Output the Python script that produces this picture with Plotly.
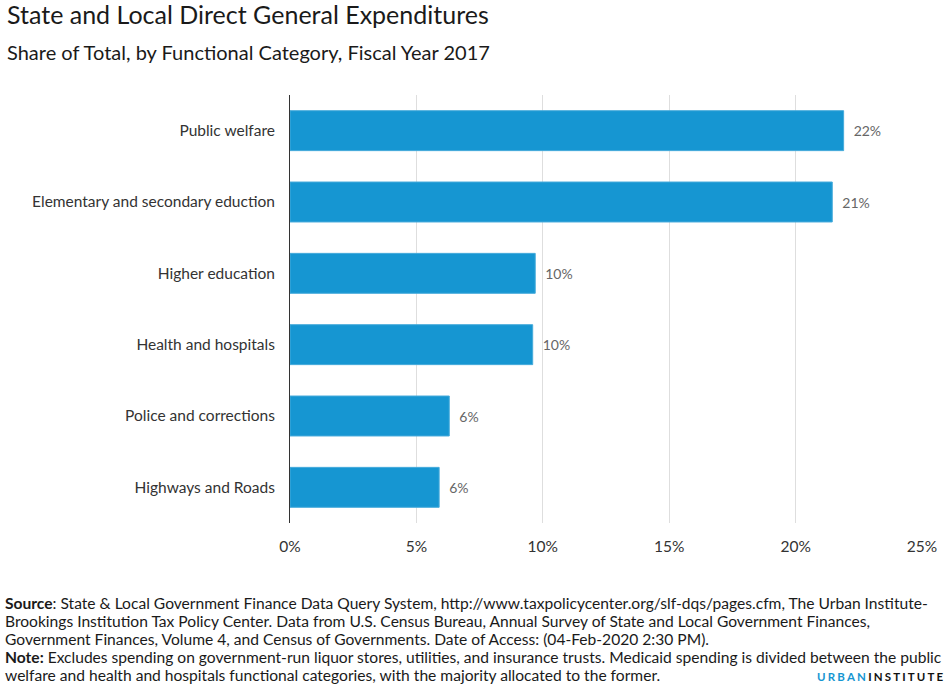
import plotly.graph_objects as go

categories = [
    'Public welfare',
    'Elementary and secondary eduction',
    'Higher education',
    'Health and hospitals',
    'Police and corrections',
    'Highways and Roads',
]
shares = [21.9, 21.45, 9.7, 9.6, 6.3, 5.9]
x_ticks = [0, 5, 10, 15, 20, 25]

title = 'State and Local Direct General Expenditures'
subtitle = 'Share of Total, by Functional Category, Fiscal Year 2017'
note_lines = [
    '<b>Source</b>: State & Local Government Finance Data Query System, http://www.taxpolicycenter.org/slf-dqs/pages.cfm, The Urban Institute-',
    'Brookings Institution Tax Policy Center. Data from U.S. Census Bureau, Annual Survey of State and Local Government Finances,',
    'Government Finances, Volume 4, and Census of Governments. Date of Access: (04-Feb-2020 2:30 PM).',
    '<b>Note:</b> Excludes spending on government-run liquor stores, utilities, and insurance trusts. Medicaid spending is divided between the public',
    'welfare and health and hospitals functional categories, with the majority allocated to the former.',
]

colors = {
    'blue': '#1696d2',
    'text': '#1a1a1a',
    'label': '#666666',
    'grid': '#dedede',
    'axis': '#333333',
}

fig = go.Figure(go.Bar(
    x=shares,
    y=categories,
    orientation='h',
    marker=dict(color=colors['blue'], line=dict(color='#46abdb', width=1)),
    text=['\u2002{:.0f}%'.format(v) for v in shares],
    textposition='outside',
    textfont=dict(family='Lato', size=14, color=colors['label']),
    cliponaxis=False,
    hoverinfo='skip',
))

annotations = [
    dict(text=title, x=5, y=14, font=dict(size=25, color=colors['text'])),
    dict(text=subtitle, x=5, y=52, font=dict(size=20, color=colors['text'])),
]
for i, line in enumerate(note_lines):
    annotations.append(dict(text=line, x=3, y=603 + 18 * i, font=dict(size=15.6, color=colors['text'])))
for a in annotations:
    a.update(xref='paper', yref='paper', xanchor='left', yanchor='middle', showarrow=False)
    # pixel coords -> paper coords (plot area 290..922 x 95..523)
    a['x'] = (a['x'] - 290) / 632
    a['y'] = (523 - a['y']) / 428
    a['font']['family'] = 'Lato'

sp = '\u2009\u200a'
annotations.append(dict(
    text='<span style="color:#1696d2">' + sp.join('URBAN') + '</span>' + sp + sp.join('INSTITUTE'),
    xref='paper', yref='paper', x=(946 - 290) / 632, y=(523 - 676) / 428,
    xanchor='right', yanchor='middle', showarrow=False,
    font=dict(family='Lato', size=11.5, color='#111111', weight=700),
))

fig.update_layout(
    width=951,
    height=684,
    paper_bgcolor='white',
    plot_bgcolor='white',
    margin=dict(l=290, r=29, t=95, b=161),
    showlegend=False,
    bargap=0.44,
    font=dict(family='Lato', color=colors['axis']),
    annotations=annotations,
    xaxis=dict(
        range=[0, 25],
        tickvals=x_ticks,
        ticktext=[f'{t}%' for t in x_ticks],
        showgrid=True,
        gridcolor=colors['grid'],
        gridwidth=1,
        zeroline=False,
        showline=False,
        ticks='',
        ticklabelstandoff=12,
        tickfont=dict(size=15.5, color=colors['axis']),
    ),
    yaxis=dict(
        autorange='reversed',
        showline=True,
        linecolor=colors['axis'],
        linewidth=1,
        showgrid=False,
        ticks='',
        ticklabelstandoff=11,
        tickfont=dict(size=15.5, color=colors['axis']),
    ),
)

# page body has a default 8px margin that would push the fixed-size figure off the window
fig.write_html('out.html', config={'displayModeBar': False},
               post_script="document.body.style.margin='0';")
